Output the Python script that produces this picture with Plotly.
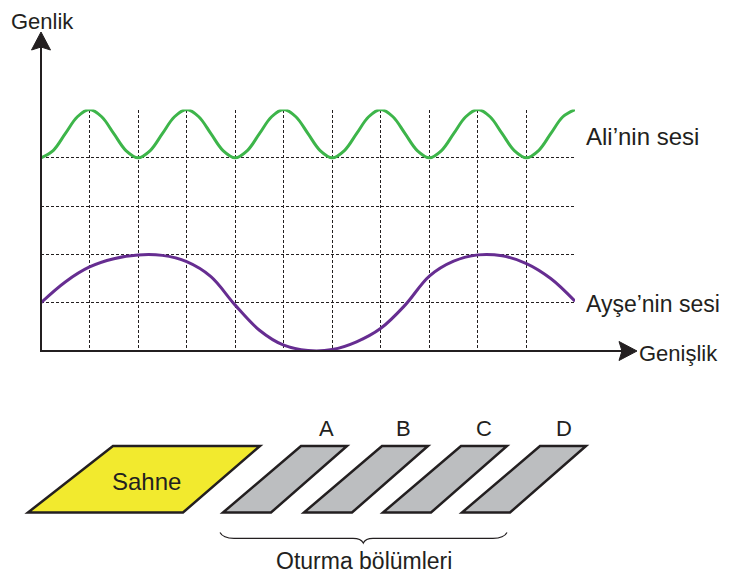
import plotly.graph_objects as go

# ---------------- data ----------------
# Ali'nin sesi (green) - read at quarter-unit steps along the grid
ali_x = [i * 0.25 for i in range(45)]
ali_y = [4.0, 4.15, 4.5, 4.85, 5.0, 4.85, 4.5, 4.15,
         4.0, 4.15, 4.5, 4.85, 5.0, 4.85, 4.5, 4.15,
         4.0, 4.15, 4.5, 4.85, 5.0, 4.85, 4.5, 4.15,
         4.0, 4.15, 4.5, 4.85, 5.0, 4.85, 4.5, 4.15,
         4.0, 4.15, 4.5, 4.85, 5.0, 4.85, 4.5, 4.15,
         4.0, 4.15, 4.5, 4.85, 5.0]

# Ayşe'nin sesi (purple) - read at half-unit steps
ayse_x = [i * 0.5 for i in range(23)]
ayse_y = [1.0, 1.43, 1.74, 1.91, 1.99, 1.98, 1.85, 1.54, 0.95, 0.43, 0.12, 0.01,
          0.03, 0.19, 0.47, 0.95, 1.55, 1.86, 1.99, 1.97, 1.81, 1.5, 1.03]

grid_x = list(range(0, 12))
grid_y = list(range(0, 6))

seat_labels = ["A", "B", "C", "D"]
stage_label = "Sahne"
seats_label = "Oturma bölümleri"
series_labels = ["Ali’nin sesi", "Ayşe’nin sesi"]
axis_titles = ["Genlik", "Genişlik"]

# ---------------- styles ----------------
INK = "#231f20"
GREEN = "#3db54a"
PURPLE = "#662d91"
YELLOW = "#f2ea2e"
GRAY = "#bcbec0"
FONT = "Liberation Sans, Arial, sans-serif"
VW, VH = 729, 583          # browser window
OFF = 8                    # default page margin of the HTML body
W, H = VW - 2 * OFF, VH - 2 * OFF  # figure fits inside the page body

fig = go.Figure()

fig.add_trace(go.Scatter(x=ali_x, y=ali_y, mode="lines",
                         line=dict(color=GREEN, width=3, shape="spline", smoothing=1),
                         xaxis="x", yaxis="y", hoverinfo="skip"))
fig.add_trace(go.Scatter(x=ayse_x, y=ayse_y, mode="lines",
                         line=dict(color=PURPLE, width=3, shape="spline", smoothing=1),
                         xaxis="x", yaxis="y", hoverinfo="skip"))
# invisible trace to activate pixel overlay axes
fig.add_trace(go.Scatter(x=[100], y=[100], mode="markers", marker=dict(opacity=0),
                         xaxis="x2", yaxis="y2", hoverinfo="skip"))

# window-pixel geometry of the grid area
gx0, gx1 = 41, 575
gy0, gy1 = 351, 109.5

fig.update_layout(
    width=W, height=H,
    margin=dict(l=0, r=0, t=0, b=0, pad=0),
    paper_bgcolor="white", plot_bgcolor="rgba(0,0,0,0)",
    showlegend=False, hovermode=False,
    xaxis=dict(domain=[(gx0 - OFF) / W, (gx1 - OFF) / W], range=[0, 11], tickvals=grid_x,
               showticklabels=False, ticks="", showgrid=True, gridcolor=INK,
               gridwidth=1, griddash="3px,2px", zeroline=False, showline=False,
               anchor="y", fixedrange=True),
    yaxis=dict(domain=[1 - (gy0 - OFF) / H, 1 - (gy1 - OFF) / H], range=[0, 5], tickvals=grid_y,
               showticklabels=False, ticks="", showgrid=True, gridcolor=INK,
               gridwidth=1, griddash="3px,2px", zeroline=False, showline=False,
               anchor="x", fixedrange=True),
    xaxis2=dict(domain=[0, 1], range=[OFF, OFF + W], visible=False, anchor="y2", fixedrange=True),
    yaxis2=dict(domain=[0, 1], range=[OFF + H, OFF], visible=False, anchor="x2", fixedrange=True),
)

shapes = []
# axes with arrows
shapes.append(dict(type="line", xref="x2", yref="y2", x0=gx0, y0=gy0 + 1, x1=gx0, y1=46,
                   line=dict(color=INK, width=2)))
shapes.append(dict(type="line", xref="x2", yref="y2", x0=gx0 - 1, y0=gy0, x1=622, y1=gy0,
                   line=dict(color=INK, width=2)))
shapes.append(dict(type="path", xref="x2", yref="y2",
                   path="M 41 32 L 50.5 50 L 41 47 L 31.5 50 Z",
                   fillcolor=INK, line=dict(color=INK, width=1)))
shapes.append(dict(type="path", xref="x2", yref="y2",
                   path="M 637 351 L 619 341.5 L 622 351 L 619 360.5 Z",
                   fillcolor=INK, line=dict(color=INK, width=1)))

# stage
shapes.append(dict(type="path", xref="x2", yref="y2",
                   path="M 28 512.5 L 183 512.5 L 260 446 L 113 446 Z",
                   fillcolor=YELLOW, line=dict(color=INK, width=2.5)))
# seat sections
seat_bottom_left = [223, 304, 383, 462]
for bl in seat_bottom_left:
    p = f"M {bl} 512.5 L {bl + 48} 512.5 L {bl + 124} 446 L {bl + 78} 446 Z"
    shapes.append(dict(type="path", xref="x2", yref="y2", path=p,
                       fillcolor=GRAY, line=dict(color=INK, width=2.5)))
# brace
shapes.append(dict(type="path", xref="x2", yref="y2",
                   path="M 220 532.5 Q 223 538.3 234 538.3 L 353 538.3 Q 361 538.3 363.3 543 "
                        "Q 365.5 538.3 373 538.3 L 493 538.3 Q 504 538.3 507 532.5",
                   line=dict(color=INK, width=1.2)))
fig.update_layout(shapes=shapes)

ann = []
def txt(s, x, y, xanchor="left", size=24):
    ann.append(dict(text=s, x=x, y=y, xref="x2", yref="y2", xanchor=xanchor,
                    yanchor="middle", showarrow=False,
                    font=dict(family=FONT, size=size, color=INK)))

txt(axis_titles[0], 8.5, 21.5, size=22)
txt(axis_titles[1], 637, 353, size=22)
txt(series_labels[0], 584, 136)
txt(series_labels[1], 584, 304, size=23)
txt(stage_label, 146, 481, xanchor="center")
for lab, cx in zip(seat_labels, [326, 403, 484, 564]):
    txt(lab, cx, 428, xanchor="center", size=22)
txt(seats_label, 364, 561, xanchor="center", size=23)
fig.update_layout(annotations=ann)

fig.write_html("out.html")
